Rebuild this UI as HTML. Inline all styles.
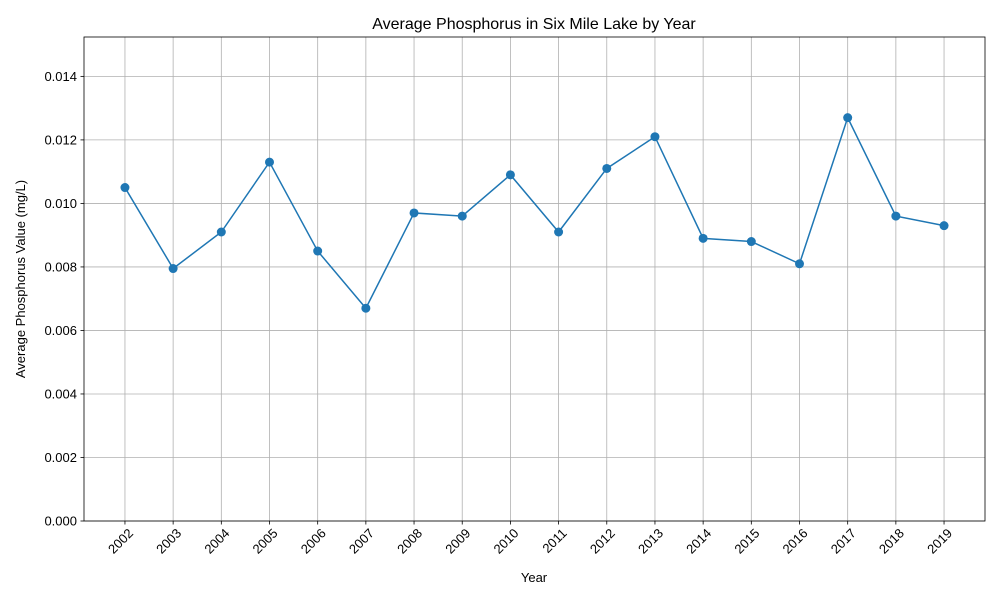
<!DOCTYPE html>
<html><head><meta charset="utf-8"><style>
body{margin:0;background:#fff;font-family:"Liberation Sans","DejaVu Sans",sans-serif;}
svg text{font-family:"Liberation Sans","DejaVu Sans",sans-serif;fill:#000;}
</style></head><body>
<svg id="chart" width="1000" height="600" xmlns="http://www.w3.org/2000/svg">
<rect width="1000" height="600" fill="#fff"/>
<g id="grid"></g>
<g id="ticks"></g>
<g id="series"></g>
<rect x="84" y="37" width="901" height="484" fill="none" stroke="#000" stroke-width="0.8"/>
<text x="534" y="29" font-size="16" text-anchor="middle">Average Phosphorus in Six Mile Lake by Year</text>
<text x="534" y="582" font-size="13" text-anchor="middle">Year</text>
<text transform="translate(25,279) rotate(-90)" font-size="13" text-anchor="middle">Average Phosphorus Value (mg/L)</text>
</svg>
<script>
const years = ["2002","2003","2004","2005","2006","2007","2008","2009","2010","2011","2012","2013","2014","2015","2016","2017","2018","2019"];
const values = [0.0105,0.00795,0.0091,0.0113,0.0085,0.0067,0.0097,0.0096,0.0109,0.0091,0.0111,0.0121,0.0089,0.0088,0.0081,0.0127,0.0096,0.0093];
const yTicks = ["0.000","0.002","0.004","0.006","0.008","0.010","0.012","0.014"];

const NS = "http://www.w3.org/2000/svg";
const L=84,R=985,T=37,B=521;
const n = years.length;
const xMin=-0.85, xMax=(n-1)+0.85;
const yMax = Math.max(...values)*1.2;
const xs = i => L + (i-xMin)/(xMax-xMin)*(R-L);
const ys = v => B - v/yMax*(B-T);
function mk(tag, attrs, parent){const e=document.createElementNS(NS,tag);for(const k in attrs)e.setAttribute(k,attrs[k]);parent.appendChild(e);return e;}
const grid=document.getElementById('grid'), ticks=document.getElementById('ticks'), series=document.getElementById('series');

yTicks.forEach(t=>{
  const y=ys(parseFloat(t));
  const g=mk('line',{x1:L,x2:R,y1:y,y2:y,stroke:'#b0b0b0','stroke-width':0.8},grid);
  
  
  mk('line',{x1:L-3.5,x2:L,y1:y,y2:y,stroke:'#000','stroke-width':0.8},ticks);
  const tx=mk('text',{x:L-7,y:y+4.5,'font-size':13,'text-anchor':'end'},ticks);
  tx.textContent=t;
  
  
});
years.forEach((yr,i)=>{
  const x=xs(i);
  const g=mk('line',{x1:x,x2:x,y1:T,y2:B,stroke:'#b0b0b0','stroke-width':0.8},grid);
  
  
  mk('line',{x1:x,x2:x,y1:B,y2:B+3.5,stroke:'#000','stroke-width':0.8},ticks);
  const tx=mk('text',{'font-size':13,'text-anchor':'end',transform:`translate(${x+9},${B+13}) rotate(-45)`},ticks);
  tx.textContent=yr;
  
  
});
const pts=values.map((v,i)=>xs(i)+','+ys(v)).join(' ');
const line=mk('polyline',{points:pts,fill:'none',stroke:'#1f77b4','stroke-width':1.5},series);


values.forEach((v,i)=>{
  const c=mk('circle',{cx:xs(i),cy:ys(v),r:4.5,fill:'#1f77b4'},series);
  
  
});
</script>
</body></html>
